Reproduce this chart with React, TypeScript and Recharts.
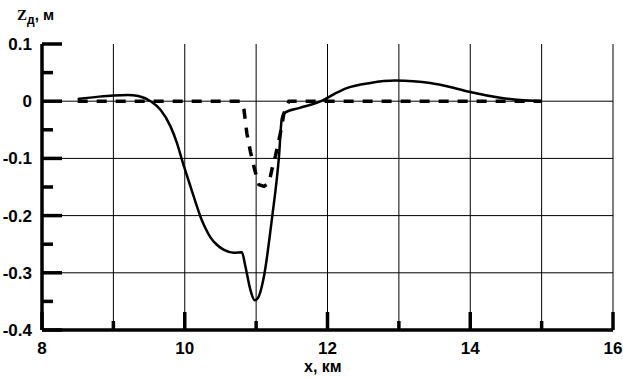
import { LineChart, Line, XAxis, YAxis, CartesianGrid } from "recharts";

// solid curve (x, km / Z, m)
const solidX = [8.5, 8.8, 9.0, 9.2, 9.35, 9.52, 9.66, 9.8, 9.89, 9.96, 10.08, 10.15, 10.22, 10.29, 10.36, 10.45, 10.55, 10.69, 10.8, 10.85, 10.92, 10.98, 11.02, 11.11, 11.22, 11.32, 11.36, 11.39, 11.6, 11.91, 12.1, 12.27, 12.6, 12.95, 13.2, 13.44, 13.75, 14.0, 14.42, 14.7, 15.0];
const solidY = [0.004, 0.008, 0.010, 0.011, 0.009, 0.0, -0.015, -0.044, -0.073, -0.102, -0.149, -0.176, -0.202, -0.222, -0.238, -0.251, -0.26, -0.265, -0.264, -0.289, -0.33, -0.348, -0.345, -0.306, -0.207, -0.097, -0.03, -0.021, -0.012, 0.0, 0.013, 0.023, 0.032, 0.036, 0.035, 0.032, 0.024, 0.016, 0.006, 0.002, 0.0];

// dashed curve
const dashX = [8.5, 10.78, 10.83, 10.87, 10.92, 10.98, 11.04, 11.11, 11.18, 11.22, 11.27, 11.34, 11.39, 11.46, 15.0];
const dashY = [0, 0, -0.015, -0.056, -0.088, -0.12, -0.146, -0.149, -0.143, -0.12, -0.096, -0.056, -0.021, 0, 0];

const xTicks = [8, 9, 10, 11, 12, 13, 14, 15, 16];
const xLabels = [8, 10, 12, 14, 16];
const yMajor = [0.1, 0, -0.1, -0.2, -0.3, -0.4];
const yMinor = [0.05, -0.05, -0.15, -0.25, -0.35];
const yGrid = [0, -0.1, -0.2, -0.3];

const solidData = solidX.map((x, i) => ({ x, z: solidY[i] }));
const dashData = dashX.map((x, i) => ({ x, z: dashY[i] }));

const labelFont = "'Liberation Sans', Arial, sans-serif";

const XTick = (props: any) => {
  const { x, y, payload } = props;
  const major = xLabels.includes(payload.value);
  return (
    <g>
      <line x1={x} x2={x} y1={y} y2={y - (major ? 18 : 9)} stroke="#000" strokeWidth={3.5} />
      {major && (
        <text x={x} y={y + 24} textAnchor="middle" fontFamily={labelFont} fontWeight="bold" fontSize={17} fill="#000">
          {payload.value}
        </text>
      )}
    </g>
  );
};

const YTick = (props: any) => {
  const { x, y, payload } = props;
  const major = yMajor.some((v) => Math.abs(v - payload.value) < 1e-9);
  return (
    <g>
      <line x1={x} x2={x + (major ? 20 : 11)} y1={y} y2={y} stroke="#000" strokeWidth={3.5} />
      {major && (
        <text x={x - 10} y={y + 6} textAnchor="end" fontFamily={labelFont} fontWeight="bold" fontSize={17} fill="#000">
          {String(Math.round(payload.value * 10) / 10)}
        </text>
      )}
    </g>
  );
};

export default function App() {
  return (
    <div style={{ position: "absolute", left: 0, top: 0, width: 623, height: 381, background: "#fff" }}>
      <LineChart width={623} height={381} margin={{ top: 44, right: 10, bottom: 0, left: 0 }}>
        <CartesianGrid
          stroke="#000"
          strokeWidth={1}
          horizontalValues={yGrid}
          verticalValues={xTicks.slice(1)}
        />
        <XAxis
          dataKey="x"
          type="number"
          domain={[8, 16]}
          ticks={xTicks}
          interval={0}
          height={51}
          allowDuplicatedCategory={false}
          axisLine={{ stroke: "#000", strokeWidth: 3.5 }}
          tickLine={false}
          tickSize={0}
          tickMargin={0}
          tick={<XTick />}
        />
        <YAxis
          type="number"
          domain={[-0.4, 0.1]}
          ticks={[...yMajor, ...yMinor].sort((a, b) => b - a)}
          interval={0}
          width={42}
          axisLine={{ stroke: "#000", strokeWidth: 3.5 }}
          tickLine={false}
          tickSize={0}
          tickMargin={0}
          tick={<YTick />}
        />
        <Line
          data={dashData}
          dataKey="z"
          type="linear"
          stroke="#000"
          strokeWidth={3.5}
          strokeDasharray="10 9"
          dot={false}
          isAnimationActive={false}
        />
        <Line
          data={solidData}
          dataKey="z"
          type="monotone"
          stroke="#000"
          strokeWidth={2.5}
          dot={false}
          isAnimationActive={false}
        />
      </LineChart>
      <div style={{ position: "absolute", left: 17, top: 6, fontWeight: "bold", whiteSpace: "nowrap", color: "#000" }}>
        <span style={{ fontFamily: "'Liberation Serif', 'Times New Roman', serif", fontSize: 15 }}>Z</span>
        <span style={{ fontFamily: labelFont, fontSize: 12, position: "relative", top: 4 }}>д</span>
        <span style={{ fontFamily: labelFont, fontSize: 15 }}>, м</span>
      </div>
      <div style={{ position: "absolute", left: 304, top: 358, fontFamily: labelFont, fontWeight: "bold", fontSize: 16, whiteSpace: "nowrap", color: "#000" }}>
        x, км
      </div>
    </div>
  );
}
